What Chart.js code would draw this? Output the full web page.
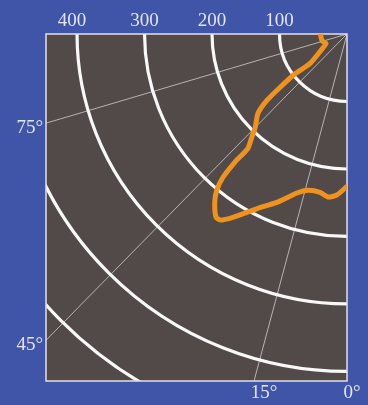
<!DOCTYPE html>
<html>
<head>
<meta charset="utf-8">
<script src="https://cdn.jsdelivr.net/npm/chart.js@4/dist/chart.umd.min.js"></script>
<style>
  html, body { margin: 0; padding: 0; background: rgb(64, 84, 168); }
  #wrap { width: 368px; height: 405px; }
</style>
</head>
<body>
<div id="wrap"><canvas id="chart" width="368" height="405"></canvas></div>
<script>
// range rings and their labels (along the top edge)
const rangeRings = [100, 200, 300, 400, 500, 600];
const rangeLabels = ["100", "200", "300", "400"];

// radial lines, angle from vertical (deg), with their labels
const rayAngles = [15, 44.5, 73.5];
const rayLabels = ["15°", "45°", "75°"];

// orange trace: horizontal distance from the corner and depth below it (range units)
const traceX = [39, 37, 31, 36, 55, 77, 99, 119, 132, 136, 141, 147, 166, 184, 193, 196, 194, 188, 169, 133, 104, 74, 58, 40, 28, 15, 1];
const traceY = [2, 10, 14, 21, 44, 59, 79, 99, 118, 139, 153, 170, 190, 213, 232, 250, 272, 276, 272, 259, 250, 236, 232, 235, 242, 239, 227];

const PLOT_BG = "rgb(82, 74, 73)";
const TEXT = "rgb(226, 229, 242)";
const FONT = "19px 'Liberation Serif', 'DejaVu Serif', serif";

const polarGrid = {
  id: "polarGrid",
  beforeDatasetsDraw(chart) {
    const { ctx, chartArea: a, scales: { x, y } } = chart;
    const cx = x.getPixelForValue(0);
    const cy = y.getPixelForValue(0);
    const k = Math.abs(x.getPixelForValue(100) - cx) / 100;

    ctx.save();
    ctx.fillStyle = PLOT_BG;
    ctx.fillRect(a.left, a.top, a.right - a.left, a.bottom - a.top);

    ctx.beginPath();
    ctx.rect(a.left, a.top, a.right - a.left, a.bottom - a.top);
    ctx.clip();

    // radial lines
    ctx.strokeStyle = "rgba(215, 215, 215, 0.75)";
    ctx.lineWidth = 1;
    rayAngles.forEach((deg) => {
      const t = (deg * Math.PI) / 180;
      ctx.beginPath();
      ctx.moveTo(cx, cy);
      ctx.lineTo(cx - Math.sin(t) * 1000, cy + Math.cos(t) * 1000);
      ctx.stroke();
    });

    // range rings
    ctx.strokeStyle = "rgb(248, 248, 248)";
    ctx.lineWidth = 3.2;
    rangeRings.forEach((r) => {
      ctx.beginPath();
      ctx.arc(cx, cy, r * k, Math.PI / 2, Math.PI);
      ctx.stroke();
    });
    ctx.restore();

    ctx.save();
    ctx.strokeStyle = "rgb(225, 225, 230)";
    ctx.lineWidth = 1.5;
    ctx.strokeRect(a.left, a.top, a.right - a.left, a.bottom - a.top);
    ctx.restore();
  },
  afterDraw(chart) {
    const { ctx, chartArea: a, scales: { x, y } } = chart;
    const cx = x.getPixelForValue(0);
    const cy = y.getPixelForValue(0);
    ctx.save();
    ctx.fillStyle = TEXT;
    ctx.font = FONT;
    ctx.textBaseline = "middle";

    ctx.textAlign = "center";
    rangeLabels.forEach((lab) => {
      ctx.fillText(lab, x.getPixelForValue(Number(lab)) - (lab === "400" ? 5 : 0), a.top - 13);
    });

    rayAngles.forEach((deg, i) => {
      const t = (deg * Math.PI) / 180;
      const w = cx - a.left;
      const h = a.bottom - cy;
      if (Math.tan(t) * h > w) {
        // hits left edge
        const py = cy + w / Math.tan(t);
        ctx.textAlign = "right";
        ctx.fillText(rayLabels[i], a.left - 3, py + 5);
      } else {
        const px = cx - Math.tan(t) * h;
        ctx.textAlign = "center";
        ctx.fillText(rayLabels[i], px + 10, a.bottom + 12);
      }
    });
    ctx.textAlign = "center";
    ctx.fillText("0°", cx + 5, a.bottom + 12);
    ctx.restore();
  },
};

new Chart(document.getElementById("chart"), {
  type: "scatter",
  data: {
    datasets: [{
      data: traceX.map((v, i) => ({ x: v, y: traceY[i] })),
      showLine: true,
      borderColor: "rgb(240, 146, 30)",
      borderWidth: 5,
      pointRadius: 0,
      tension: 0.2,
      borderJoinStyle: "round",
      borderCapStyle: "round",
    }],
  },
  options: {
    responsive: false,
    animation: false,
    devicePixelRatio: 1,
    layout: { padding: { left: 46, top: 34, right: 21, bottom: 24 } },
    scales: {
      x: { type: "linear", reverse: true, min: 0, max: 446, display: false },
      y: { type: "linear", reverse: true, min: 0, max: 515, display: false },
    },
    plugins: { legend: { display: false }, tooltip: { enabled: false } },
  },
  plugins: [polarGrid],
});
</script>
</body>
</html>
